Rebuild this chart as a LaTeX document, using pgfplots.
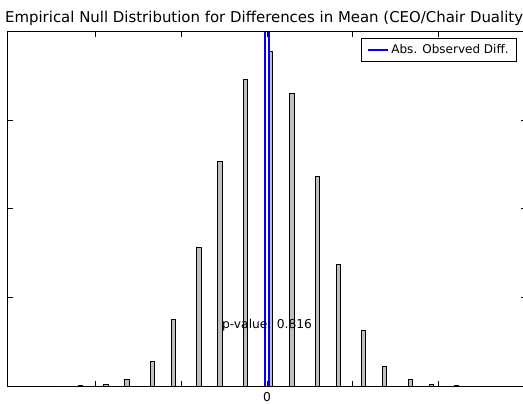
\documentclass[border=0pt]{standalone}
\usepackage{fontspec}
\setmainfont{DejaVu Sans}
\usepackage{pgfplots}
\pgfplotsset{compat=1.18}
\begin{document}
\begin{tikzpicture}
\useasboundingbox (0,0) rectangle (392.25pt,302.25pt);
\clip (0,0) rectangle (392.25pt,302.25pt);
\begin{axis}[
  at={(6pt,12.75pt)}, anchor=south west,
  scale only axis, width=388.5pt, height=265.5pt,
  xmin=-3.012, xmax=3.012, ymin=0, ymax=2000,
  xtick={-2,-1,0,1,2}, xticklabels={,,0,,},
  ytick={0,500,1000,1500,2000}, yticklabels={},
  tick align=inside, major tick length=3.5pt,
  axis line style={black, line width=0.75pt},
  every tick/.style={black, line width=0.75pt},
  /pgf/number format/assume math mode=true,
  tick label style={font=\fontsize{9.2}{11}\selectfont},
  xticklabel style={yshift=-1pt},
  title={Empirical Null Distribution for Differences in Mean (CEO/Chair Duality)},
  title style={font=\fontsize{11.2}{13}\selectfont, yshift=-5pt},
  legend style={at={(1,1)}, anchor=north east, xshift=-6.75pt, yshift=-4.5pt,
    draw=black, line width=0.6pt, fill=white, font=\fontsize{9}{11}\selectfont,
    inner xsep=4pt, inner ysep=2.5pt},
  legend cell align=left,
  legend image code/.code={\draw[#1, line width=1.5pt] (0pt,0pt) -- (15pt,0pt);},
]
\addplot[ybar interval, fill=gray!50, draw=black, line width=0.75pt, forget plot] coordinates {
(-2.4384,0) (-2.1927,2) (-2.1435,0) (-1.8978,10) (-1.8486,0)
(-1.6520,38) (-1.6029,0) (-1.3571,137) (-1.3080,0)
(-1.1114,373) (-1.0622,0) (-0.8165,780) (-0.7673,0)
(-0.5707,1266) (-0.5216,0) (-0.2758,1729) (-0.2267,0)
(0.0191,1887) (0.0683,0) (0.2649,1655) (0.3140,0)
(0.5598,1186) (0.6089,0) (0.8055,689) (0.8547,0)
(1.1004,311) (1.1496,0) (1.3462,113) (1.3953,0)
(1.6411,34) (1.6902,0) (1.8868,10) (1.9360,0)
(2.1817,2) (2.2309,0) (2.4766,0)
};
\addplot[blue, line width=1.5pt] coordinates {(-0.024,0) (-0.024,2000)};
\addlegendentry{Abs. Observed Diff.}
\addplot[blue, line width=1.5pt, forget plot] coordinates {(0.028,0) (0.028,2000)};
\node[font=\fontsize{9.2}{11}\selectfont] at (axis cs:0,345) {p-value: 0.816};
\end{axis}
\end{tikzpicture}
\end{document}
